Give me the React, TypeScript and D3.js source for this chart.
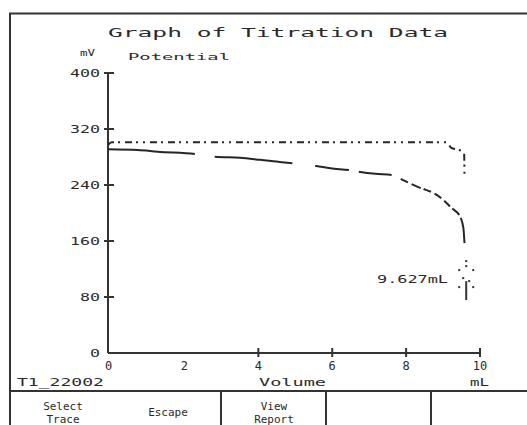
import React from "react";
import * as d3 from "d3";

const title = "Graph of Titration Data";
const yTicks = [0, 80, 160, 240, 320, 400];
const xTickLabels = [0, 2, 4, 6, 8, 10];
const xTickMarks = [4, 6, 8, 10];
// upper trace (dash-dot)
const upperVol = [-0.07, 0.03, 4.0, 9.1, 9.22, 9.44, 9.57, 9.58];
const upperMv = [297, 301, 301, 301, 293, 290, 286, 253];
// lower trace (long dashes)
const lowerVol = [-0.07, 0.74, 1.28, 2.29, 2.83, 3.51, 4.05, 4.64, 4.94, 5.57, 5.95, 6.49, 6.76, 7.17, 7.65, 7.92, 8.38, 8.74, 9.01, 9.2, 9.47, 9.55, 9.58];
const lowerMv = [291, 290, 287.6, 284.3, 280.4, 279, 276, 272.5, 271, 267, 264, 261, 258.6, 256, 254, 247, 236, 228.6, 218.6, 208.6, 194, 178.6, 157];
const cursorVol = 9.627;
const cursorMv = 107;
const cursorLabel = "9.627mL";
const buttons = [
  { lines: ["Select", "Trace"], cx: 63 },
  { lines: ["Escape"], cx: 168 },
  { lines: ["View", "Report"], cx: 274 },
];
const dividers = [221, 326, 431];

const FONT = "'DejaVu Sans Mono', monospace";
const INK = "#2a2a2a";

export default function App() {
  const x = d3.scaleLinear().domain([-0.07, 10]).range([108, 480]);
  const y = d3.scaleLinear().domain([0, 400]).range([353, 73]);
  const line = d3
    .line<[number, number]>()
    .x((d) => x(d[0]))
    .y((d) => y(d[1]))
    .curve(d3.curveMonotoneX);
  const upper = upperVol.map((v, i) => [v, upperMv[i]] as [number, number]);
  const lower = lowerVol.map((v, i) => [v, lowerMv[i]] as [number, number]);
  const cx = x(cursorVol);
  const cy = y(cursorMv);
  const dots: [number, number][] = [
    [0, -17], [0, -12], [-7, -8], [7, -8], [-3, 0], [3, 3], [-7, 9], [7, 9], [0, 4],
  ];
  return (
    <svg
      width={527}
      height={425}
      style={{ position: "absolute", left: 0, top: 0, background: "#fff" }}
    >
      {/* outer frame */}
      <path d="M10,430 L10,13.5 L530,13.5" fill="none" stroke="#333" strokeWidth={2} />
      {/* title */}
      <text x={108} y={37} fontFamily={FONT} fontSize={12} fill={INK} textLength={340} lengthAdjust="spacingAndGlyphs">
        {title}
      </text>
      <text x={80} y={56} fontFamily={FONT} fontSize={8} fill={INK} textLength={15} lengthAdjust="spacingAndGlyphs">mV</text>
      <text x={128} y={60} fontFamily={FONT} fontSize={9} fill={INK} textLength={102} lengthAdjust="spacingAndGlyphs">Potential</text>
      {/* y axis */}
      <line x1={108} y1={y(400)} x2={108} y2={y(0)} stroke="#333" strokeWidth={2} />
      {yTicks.map((t) => (
        <g key={t}>
          {t > 0 && <line x1={104} x2={114} y1={y(t)} y2={y(t)} stroke="#333" strokeWidth={2} />}
          <text
            x={100}
            y={y(t) + 4}
            textAnchor="end"
            fontFamily={FONT}
            fontSize={10}
            fill={INK}
            textLength={String(t).length * 10}
            lengthAdjust="spacingAndGlyphs"
          >
            {t}
          </text>
        </g>
      ))}
      {/* x axis */}
      <line x1={108} y1={y(0)} x2={x(10)} y2={y(0)} stroke="#333" strokeWidth={2} />
      {xTickMarks.map((t) => (
        <line key={t} x1={x(t)} x2={x(t)} y1={y(0) - 5} y2={y(0) + 4} stroke="#333" strokeWidth={2} />
      ))}
      {xTickLabels.map((t) => (
        <text key={t} x={t === 0 ? 108.5 : x(t)} y={370} textAnchor="middle" fontFamily={FONT} fontSize={12} fill={INK}>
          {t}
        </text>
      ))}
      <text x={17} y={386} fontFamily={FONT} fontSize={10} fill={INK} textLength={87} lengthAdjust="spacingAndGlyphs">T1_22002</text>
      <text x={259} y={386} fontFamily={FONT} fontSize={10} fill={INK} textLength={67} lengthAdjust="spacingAndGlyphs">Volume</text>
      <text x={470} y={386} fontFamily={FONT} fontSize={10} fill={INK} textLength={19} lengthAdjust="spacingAndGlyphs">mL</text>
      {/* traces */}
      <path
        d={line(upper) || ""}
        fill="none"
        stroke="#262626"
        strokeWidth={2}
        strokeDasharray="7,4,2,5,7,4,2,5,2,5"
      />
      <path
        d={line(lower) || ""}
        fill="none"
        stroke="#262626"
        strokeWidth={2}
        strokeDasharray="87,20,78,23,34,10,33,10,8,4,10,3,8,4,8,4,8,3,10,3,40"
      />
      {/* cursor */}
      <text x={448} y={283} textAnchor="end" fontFamily={FONT} fontSize={10} fill={INK} textLength={71} lengthAdjust="spacingAndGlyphs">
        {cursorLabel}
      </text>
      {dots.map((d, i) => (
        <rect key={i} x={cx + d[0] - 1} y={cy + d[1] - 1} width={2} height={2} fill="#333" />
      ))}
      <line x1={cx} x2={cx} y1={cy + 5} y2={cy + 22} stroke="#333" strokeWidth={2} />
      {/* bottom button bar */}
      <line x1={10} x2={530} y1={391} y2={391} stroke="#333" strokeWidth={2} />
      {dividers.map((d) => (
        <line key={d} x1={d} x2={d} y1={391} y2={430} stroke="#333" strokeWidth={2} />
      ))}
      {buttons.map((b) =>
        b.lines.map((l, i) => (
          <text
            key={b.cx + l}
            x={b.cx}
            y={b.lines.length === 1 ? 416 : 410 + i * 13}
            textAnchor="middle"
            fontFamily={FONT}
            fontSize={11}
            fill={INK}
          >
            {l}
          </text>
        ))
      )}
    </svg>
  );
}
